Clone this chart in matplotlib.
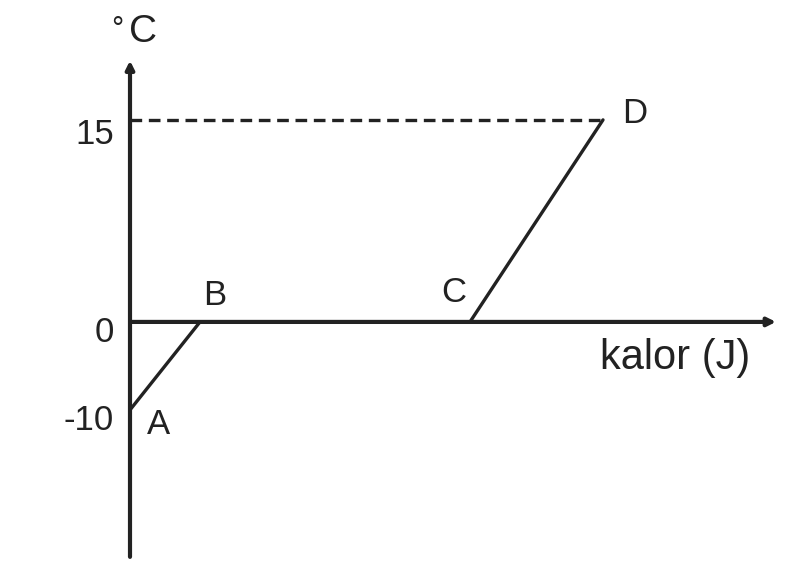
import numpy as np
import matplotlib
matplotlib.use('Agg')
import matplotlib.pyplot as plt

# data: heat (arbitrary units) and temperature (°C) at points A-D
points = ['A', 'B', 'C', 'D']
kalor = [0, 7, 34, 47.3]
suhu = [-10, 0, 0, 15]
yticks = [15, 0, -10]
ytick_labels = ['15', '0', '-10']

plt.rcParams['font.family'] = ['Liberation Sans', 'DejaVu Sans']
ink = '#222222'


def fwd(y):
    y = np.asarray(y, dtype=float)
    return np.where(y >= 0, y * 13.47, y * 8.8)


def inv(y):
    y = np.asarray(y, dtype=float)
    return np.where(y >= 0, y / 13.47, y / 8.8)


fig = plt.figure(figsize=(7.9, 5.78), dpi=100)
ax = fig.add_axes([0, 0, 1, 1])
ax.set_yscale('function', functions=(fwd, inv))
ax.set_xlim(-13, 66)
ax.set_ylim(-29.1, 23.9)
ax.axis('off')

# axes with arrows
ax.annotate('', xy=(0, 19.4), xytext=(0, -26.7),
            arrowprops=dict(arrowstyle='-|>', lw=3, color=ink, mutation_scale=12,
                            shrinkA=0, shrinkB=0))
ax.annotate('', xy=(64.6, 0), xytext=(0, 0),
            arrowprops=dict(arrowstyle='-|>', lw=3, color=ink, mutation_scale=12,
                            shrinkA=0, shrinkB=0))

# heating curve
ax.plot(kalor, suhu, color=ink, lw=2.4, solid_capstyle='round')
ax.plot([0, kalor[3]], [suhu[3], suhu[3]], color=ink, lw=2.4, ls=(0, (3.5, 2)))

fs = 25
for t, lab in zip(yticks, ytick_labels):
    ax.text(-1.6, t - (1.1 if t > 0 else 1.2), lab, ha='right', va='center',
            fontsize=fs, color=ink)

label_pos = {'A': (1.7, -11.6, 'left'), 'B': (8.5, 1.95, 'center'),
             'C': (32.4, 2.2, 'center'), 'D': (50.5, 15.5, 'center')}
for p in points:
    x, y, ha = label_pos[p]
    ax.text(x, y, p, ha=ha, va='center', fontsize=fs, color=ink)

ax.text(-1.3, 21.7, '°', ha='center', va='center', fontsize=22, color=ink)
ax.text(1.3, 21.5, 'C', ha='center', va='center', fontsize=28, color=ink)
ax.text(47, -4.1, 'kalor (J)', ha='left', va='center', fontsize=30, color=ink)

fig.savefig('out.png', dpi=100, facecolor='white')
